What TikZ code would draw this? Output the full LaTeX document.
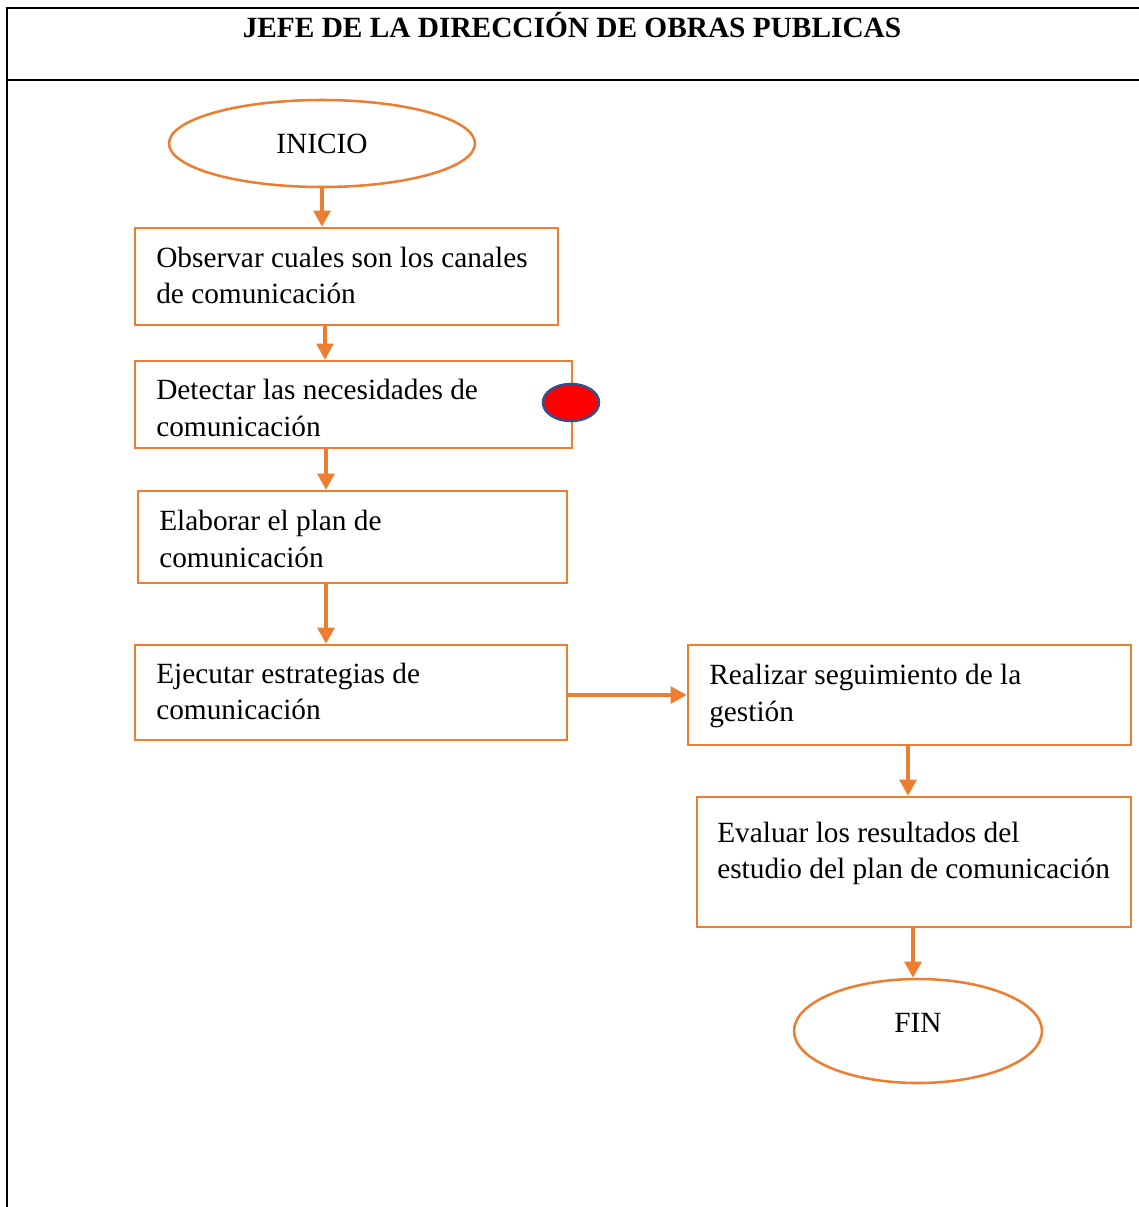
\documentclass[tikz,border=0pt]{standalone}
\usepackage{fontspec}
\setmainfont{Liberation Serif}
\usetikzlibrary{arrows.meta,shapes.geometric}
\definecolor{orng}{HTML}{ED7D31}
\definecolor{bluebd}{HTML}{2F528F}
\begin{document}
\begin{tikzpicture}[x=0.75pt,y=-0.75pt,
  txt/.style={font=\fontsize{22}{27.4}\selectfont},
  box/.style={draw=orng,line width=1.9pt,rectangle,inner sep=0pt},
  oval/.style={draw=orng,line width=1.9pt,ellipse,inner sep=0pt,txt},
  boxtext/.style={txt,anchor=north west,inner sep=0pt,align=left},
  flow/.style={draw=orng,line width=2.6pt,-{Triangle[length=12pt,width=12.5pt]}},
  frame/.style={draw=black,line width=1.5pt}]
\useasboundingbox (0,0) rectangle (1139,1207);
% frame
\coordinate (ftl) at (7,8);
\coordinate (ftr) at (1139,8);
\coordinate (fml) at (7,80);
\coordinate (fmr) at (1139,80);
\coordinate (fbl) at (7,1207);
\draw[frame] (ftr) -- (ftl) -- (fbl);
\draw[frame] (fml) -- (fmr);
\node[txt,font=\fontsize{22}{27.4}\selectfont\bfseries,anchor=base,inner sep=0pt] (title) at (572,37) {JEFE DE LA DIRECCIÓN DE OBRAS PUBLICAS};
% start / end
\node[oval,minimum width=229.5pt,minimum height=65.25pt] (inicio) at (322,143.5) {INICIO};
\node[oval,minimum width=186pt,minimum height=78pt,text depth=12.8pt] (fin) at (918,1031) {FIN};
% boxes
\node[box,minimum width=317.25pt,minimum height=72.75pt] (b1) at (346.5,276.5) {};
\node[box,minimum width=327.75pt,minimum height=65.25pt] (b2) at (353.5,404.5) {};
\node[box,minimum width=321.75pt,minimum height=69pt] (b3) at (352.5,537) {};
\node[box,minimum width=324pt,minimum height=71.25pt] (b4) at (351,692.5) {};
\node[box,minimum width=332.25pt,minimum height=75pt] (b5) at (909.5,695) {};
\node[box,minimum width=325.5pt,minimum height=97.5pt] (b6) at (914,862) {};
% texts
\node[boxtext] (t1) at (156,241.5) {\strut Observar cuales son los canales\\de comunicación};
\node[boxtext] (t2) at (156,374) {\strut Detectar las necesidades de\\comunicación};
\node[boxtext] (t3) at (159,505) {\strut Elaborar el plan de\\comunicación};
\node[boxtext] (t4) at (156,657.5) {\strut Ejecutar estrategias de\\comunicación};
\node[boxtext] (t5) at (709,659) {\strut Realizar seguimiento de la\\gestión};
\node[boxtext] (t6) at (717,816.5) {\strut Evaluar los resultados del\\estudio del plan de comunicación};
% red marker
\node[ellipse,draw=bluebd,fill=red,line width=1.9pt,inner sep=0pt,minimum width=42pt,minimum height=27.75pt] (mark) at (571,402.5) {};
% connectors
\draw[flow] (inicio.south) -- (inicio.south |- b1.north);
\draw[flow] (325,0 |- b1.south) -- (325,0 |- b2.north);
\draw[flow] (326,0 |- b2.south) -- (326,0 |- b3.north);
\draw[flow] (326,0 |- b3.south) -- (326,0 |- b4.north);
\draw[flow] (b4.east |- b5.west) -- (b5.west);
\draw[flow] (908,0 |- b5.south) -- (908,0 |- b6.north);
\draw[flow] (913,0 |- b6.south) -- (913,0 |- fin.north);
\end{tikzpicture}
\end{document}
